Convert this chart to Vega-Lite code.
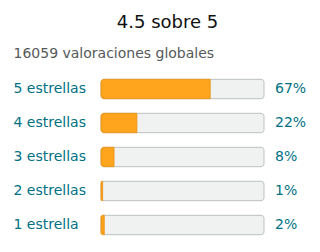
{
  "$schema": "https://vega.github.io/schema/vega-lite/v6.json",
  "width": 163,
  "height": 204,
  "autosize": "none",
  "padding": {"left": 101, "top": 38, "right": 56, "bottom": 10},
  "background": "white",
  "config": {"font": "DejaVu Sans", "view": {"stroke": null}},
  "title": {
    "text": "4.5 sobre 5",
    "fontSize": 18,
    "fontWeight": "normal",
    "color": "#0f1111",
    "anchor": "middle",
    "frame": "group",
    "dx": -15,
    "offset": 6
  },
  "data": {
    "values": [
      {"rating": "5 estrellas", "pct": 0.67},
      {"rating": "4 estrellas", "pct": 0.22},
      {"rating": "3 estrellas", "pct": 0.08},
      {"rating": "2 estrellas", "pct": 0.01},
      {"rating": "1 estrella", "pct": 0.02}
    ]
  },
  "encoding": {
    "y": {
      "field": "rating",
      "type": "nominal",
      "sort": null,
      "scale": {
        "domain": ["16059 valoraciones globales", "5 estrellas", "4 estrellas", "3 estrellas", "2 estrellas", "1 estrella"],
        "paddingInner": 0.43,
        "paddingOuter": 0.215
      },
      "axis": {
        "title": null,
        "ticks": false,
        "domain": false,
        "labelAlign": "left",
        "labelBaseline": "middle",
        "labelPadding": 88,
        "labelFontSize": 14,
        "labelLimit": 300,
        "labelColor": {"condition": {"test": "datum.value == '16059 valoraciones globales'", "value": "#565959"}, "value": "#007185"},
        "labelOffset": {"condition": {"test": "datum.value == '16059 valoraciones globales'", "value": -1}, "value": 0}
      }
    }
  },
  "layer": [
    {
      "mark": {"type": "bar", "fill": "#f0f2f2", "stroke": "#bdc1c1", "strokeWidth": 1, "cornerRadius": 3},
      "encoding": {
        "x": {"datum": 0, "type": "quantitative", "scale": {"domain": [0, 1], "nice": false}, "axis": null},
        "x2": {"datum": 1}
      }
    },
    {
      "mark": {"type": "bar", "fill": "#ffa41c", "stroke": "#e8900f", "strokeWidth": 0.8, "cornerRadiusTopLeft": 3, "cornerRadiusBottomLeft": 3},
      "encoding": {
        "x": {"field": "pct", "type": "quantitative"},
        "x2": {"datum": 0}
      }
    },
    {
      "mark": {"type": "text", "align": "left", "baseline": "middle", "dx": 11, "fontSize": 14, "color": "#007185"},
      "encoding": {
        "x": {"datum": 1, "type": "quantitative"},
        "text": {"field": "pct", "type": "quantitative", "format": ".0%"}
      }
    }
  ]
}
